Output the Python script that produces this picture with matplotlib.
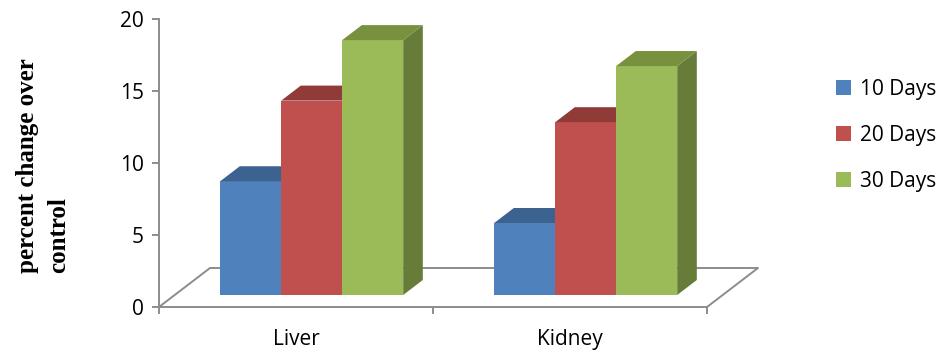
import matplotlib
matplotlib.use('Agg')
import matplotlib.pyplot as plt
from matplotlib.patches import Polygon

plt.rcParams['font.family'] = ['Open Sans', 'DejaVu Sans']

# 数据
organs = ['Liver', 'Kidney']
periods = ['10 Days', '20 Days', '30 Days']
days10 = [7.9, 5.0]
days20 = [13.5, 12.0]
days30 = [17.7, 15.9]
series = [days10, days20, days30]

# 颜色: 正面, 顶面, 侧面
front_colors = ['#4F81BD', '#C0504D', '#9BBB59']
top_colors = ['#3C6290', '#913B39', '#77913F']
side_colors = ['#3A5F8C', '#8C3835', '#677C38']

fig = plt.figure(figsize=(9.48, 3.56), dpi=100)
px_w, px_h = 948.0, 356.0
ax = fig.add_axes([159 / px_w, 49 / px_h, 611 / px_w, 288 / px_h])
ax.set_xlim(-0.5, -0.5 + 611 / 274.0)
ax.set_ylim(0, 20)

# 伪3D参数(数据单位)
unit_y = 288 / 20.0
floor_dx, floor_dy = 51 / 274.0, 39 / unit_y
f0 = 12 / 39.0      # 柱子正面所在深度
fd = 15 / 39.0      # 柱子深度
bar_w = 61 / 274.0
gray = '#8C8C8C'

# 底面
fx = [-0.5, 1.5, 1.5 + floor_dx, -0.5 + floor_dx, -0.5]
fy = [0, 0, floor_dy, floor_dy, 0]
ax.plot(fx, fy, color=gray, lw=1.4, clip_on=False, zorder=1)

x0 = f0 * floor_dx
y0 = f0 * floor_dy
ddx, ddy = fd * floor_dx, fd * floor_dy

handles = []
for i in range(len(organs)):
    for j, vals in enumerate(series):
        left = i + x0 + (j - 1.5) * bar_w
        v = vals[i]
        b = ax.bar(left, v, width=bar_w, bottom=y0, align='edge',
                   color=front_colors[j], zorder=2 + i * 3 + j, linewidth=0)
        if i == 0:
            handles.append(b)
        top = y0 + v
        ax.add_patch(Polygon([(left, top), (left + bar_w, top),
                              (left + bar_w + ddx, top + ddy), (left + ddx, top + ddy)],
                             closed=True, facecolor=top_colors[j], lw=0,
                             zorder=2 + i * 3 + j, clip_on=False))
        ax.add_patch(Polygon([(left + bar_w, y0), (left + bar_w + ddx, y0 + ddy),
                              (left + bar_w + ddx, top + ddy), (left + bar_w, top)],
                             closed=True, facecolor=side_colors[j], lw=0,
                             zorder=2 + i * 3 + j - 0.5, clip_on=False))

# 坐标轴
for s in ['top', 'right', 'bottom']:
    ax.spines[s].set_visible(False)
ax.spines['left'].set_color(gray)
ax.spines['left'].set_linewidth(1.4)
ax.set_yticks([0, 5, 10, 15, 20])
ax.tick_params(axis='y', direction='out', length=5, width=1.4, color=gray,
               labelsize=15, pad=6)
ax.set_xticks([0, 1])
ax.set_xticklabels(organs)
ax.set_xticks([-0.5, 0.5, 1.5], minor=True)
ax.tick_params(axis='x', which='major', length=0, labelsize=15, pad=16)
ax.tick_params(axis='x', which='minor', direction='out', length=5, width=1.4, color=gray)

fig.text(43 / px_w, 1 - 273 / px_h, 'percent change over\ncontrol', rotation=90,
         ha='center', va='bottom', multialignment='left', linespacing=1.45,
         family='Liberation Serif', weight='bold', fontsize=18)

fig.legend(handles, periods, loc='center left', bbox_to_anchor=(836 / px_w, 1 - 135 / px_h),
           frameon=False, fontsize=15, handlelength=0.7, handleheight=0.7,
           handletextpad=0.45, labelspacing=1.2, borderpad=0, borderaxespad=0)

plt.savefig('out.png', dpi=100)
